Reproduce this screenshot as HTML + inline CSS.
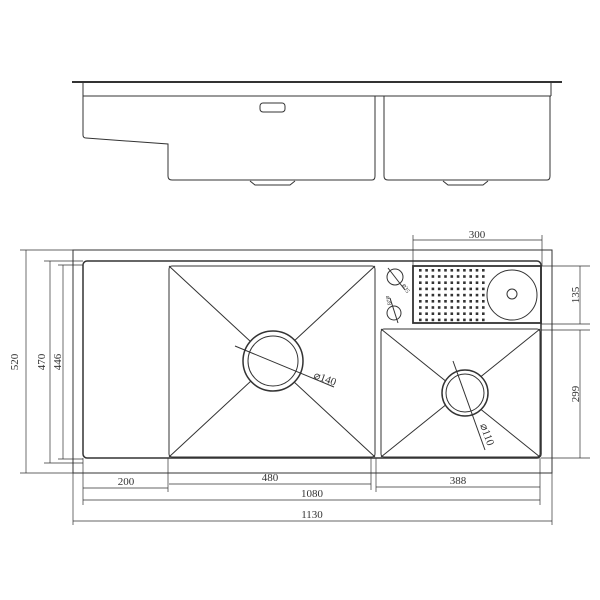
<!DOCTYPE html>
<html><head><style>body{margin:0;background:#fff}svg{display:block}text{font-family:"Liberation Serif",serif;font-size:11px;fill:#333}</style></head><body>
<svg width="600" height="600" viewBox="0 0 600 600" stroke="#333" fill="none" stroke-width="1">
<line x1="72" y1="82" x2="562" y2="82" stroke-width="2"/>
<path d="M83 82 V96 M551 82 V96 M83 96 H551"/>
<path d="M83 96 V135 Q83 138 86 138 L168 144 V176 Q168 180 172 180 H372 Q375 180 375 176 V96"/>
<path d="M384 96 V176 Q384 180 388 180 H547 Q550 180 550 176 V96"/>
<rect x="260" y="103" width="25" height="9" rx="3"/>
<path d="M250 181 L255 185 H290 L295 181 M443 181 L448 185 H483 L488 181"/>
<rect x="73" y="250" width="479" height="223"/>
<rect x="83" y="261" width="458" height="197" rx="4" stroke-width="1.5"/>
<rect x="169" y="266" width="206" height="191" rx="3"/>
<path d="M169 266 L375 457 M375 266 L169 457"/>
<rect x="381" y="329" width="159" height="128" rx="3"/>
<path d="M381 329 L540 457 M540 329 L381 457"/>
<circle cx="273" cy="361" r="30" fill="#fff" stroke-width="1.5"/>
<circle cx="273" cy="361" r="25"/>
<line x1="235" y1="346" x2="334" y2="387"/>
<text x="313" y="378" transform="rotate(20 313 378)" stroke="none">⌀140</text>
<circle cx="465" cy="393" r="23" fill="#fff" stroke-width="1.5"/>
<circle cx="465" cy="393" r="19"/>
<line x1="453" y1="361" x2="485" y2="450"/>
<text x="480" y="425" transform="rotate(70 480 425)" stroke="none">⌀110</text>
<rect x="413" y="266" width="128" height="57" stroke-width="1.8"/>
<g id="dots" fill="#333" stroke="none"></g>
<circle cx="512" cy="295" r="25"/>
<circle cx="512" cy="294" r="5"/>
<circle cx="395" cy="277" r="8"/>
<line x1="388" y1="268" x2="405" y2="290"/>
<circle cx="394" cy="313" r="7"/>
<line x1="390" y1="298" x2="398" y2="323"/>
<text x="402" y="285" transform="rotate(60 402 285)" stroke="none" style="font-size:6px">⌀35</text>
<text x="386" y="296" transform="rotate(80 386 296)" stroke="none" style="font-size:6px">⌀28</text>
<g stroke-width="0.7">
<path d="M26 250 V473 M20 250 H73 M20 473 H73"/>
<path d="M50 261 V463 M44 261 H83 M44 463 H83"/>
<path d="M63 265 V459 M58 265 H83 M58 459 H83"/>
<path d="M413 240 H542 M413 235 V266 M542 235 V266"/>
<path d="M580 266 V324 M541 266 H590 M541 324 H590"/>
<path d="M580 330 V458 M541 330 H590 M541 458 H590"/>
<path d="M83 488 H168 M169 484 H371 M376 487 H540 M83 500 H540 M73 521 H552"/>
<path d="M83 458 V505 M168 458 V492 M371 458 V490 M376 458 V492 M540 458 V505 M73 473 V525 M552 473 V525"/>
</g>
<g stroke="none">
<text x="477" y="238" text-anchor="middle">300</text>
<text x="14" y="362" text-anchor="middle" transform="rotate(-90 14 362)" dy="4">520</text>
<text x="41" y="362" text-anchor="middle" transform="rotate(-90 41 362)" dy="4">470</text>
<text x="57" y="362" text-anchor="middle" transform="rotate(-90 57 362)" dy="4">446</text>
<text x="575" y="295" text-anchor="middle" transform="rotate(-90 575 295)" dy="4">135</text>
<text x="575" y="394" text-anchor="middle" transform="rotate(-90 575 394)" dy="4">299</text>
<text x="126" y="485" text-anchor="middle">200</text>
<text x="270" y="481" text-anchor="middle">480</text>
<text x="458" y="484" text-anchor="middle">388</text>
<text x="312" y="497" text-anchor="middle">1080</text>
<text x="312" y="518" text-anchor="middle">1130</text>
</g>
</svg>
<script>
var g=document.getElementById('dots'),s='';
for(var i=0;i<11;i++)for(var j=0;j<9;j++){s+='<rect x="'+(419+i*6.3)+'" y="'+(269+j*6.2)+'" width="2.6" height="2.6"/>';}
g.innerHTML=s;
</script>
</body></html>
